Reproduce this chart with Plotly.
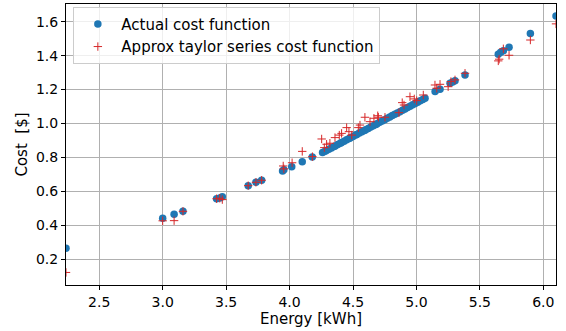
import plotly.graph_objects as go

# Actual cost function (blue dots)
actual_energy = [2.238, 3.00, 3.09, 3.16, 3.425, 3.45, 3.47, 3.674, 3.735, 3.78, 3.945, 3.955,
                 4.017, 4.10, 4.179,
                 4.26, 4.28, 4.29, 4.31, 4.33, 4.35, 4.36, 4.38, 4.40, 4.41, 4.43, 4.45, 4.47,
                 4.48, 4.50, 4.52, 4.53, 4.55, 4.57, 4.59, 4.60, 4.62, 4.64, 4.66, 4.68, 4.69,
                 4.71, 4.73, 4.75, 4.77, 4.79, 4.81, 4.83, 4.85, 4.87, 4.89, 4.91, 4.93, 4.95,
                 4.97, 4.99, 5.01, 5.03, 5.05, 5.068,
                 5.147, 5.186, 5.265, 5.285, 5.304, 5.383,
                 5.645, 5.664, 5.685, 5.73, 5.898, 6.1]
actual_cost = [0.265, 0.442, 0.465, 0.483, 0.557, 0.562, 0.569, 0.634, 0.654, 0.666, 0.720, 0.728,
               0.746, 0.775, 0.803,
               0.829, 0.837, 0.841, 0.849, 0.856, 0.864, 0.868, 0.876, 0.884, 0.888, 0.896, 0.904,
               0.912, 0.916, 0.924, 0.932, 0.936, 0.944, 0.952, 0.959, 0.963, 0.971, 0.979, 0.987,
               0.995, 0.999, 1.007, 1.015, 1.023, 1.031, 1.039, 1.047, 1.055, 1.062, 1.070, 1.078,
               1.086, 1.094, 1.102, 1.110, 1.118, 1.126, 1.134, 1.142, 1.149,
               1.188, 1.202, 1.237, 1.245, 1.252, 1.286,
               1.408, 1.420, 1.429, 1.449, 1.530, 1.634]

# Approx taylor series cost function (red plus)
approx_energy = [2.238, 3.00, 3.09, 3.16, 3.425, 3.45, 3.47, 3.674, 3.735, 3.78, 3.95, 3.955,
                 4.02, 4.10, 4.18,
                 4.253, 4.274, 4.292, 4.318, 4.358, 4.392, 4.41, 4.45, 4.468, 4.49, 4.542, 4.555,
                 4.594, 4.634, 4.665, 4.695, 4.70, 4.752, 4.862, 4.888, 4.902, 4.949, 4.983,
                 5.002, 5.054,
                 5.146, 5.16, 5.186, 5.25, 5.272, 5.304, 5.383,
                 5.645, 5.652, 5.685, 5.73, 5.898, 6.1]
approx_cost = [0.123, 0.427, 0.428, 0.483, 0.557, 0.560, 0.552, 0.634, 0.654, 0.666, 0.750, 0.733,
               0.769, 0.836, 0.805,
               0.909, 0.858, 0.878, 0.884, 0.917, 0.932, 0.942, 0.976, 0.952, 0.932, 0.976, 0.991,
               1.037, 1.011, 1.031, 1.046, 1.037, 1.037, 1.064, 1.123, 1.109, 1.158, 1.145,
               1.135, 1.168,
               1.227, 1.208, 1.231, 1.217, 1.247, 1.257, 1.296,
               1.369, 1.379, 1.440, 1.402, 1.492, 1.587]

x_ticks = [2.5, 3.0, 3.5, 4.0, 4.5, 5.0, 5.5, 6.0]
y_ticks = [0.2, 0.4, 0.6, 0.8, 1.0, 1.2, 1.4, 1.6]

font = "DejaVu Sans, Arial, sans-serif"

fig = go.Figure()
fig.add_trace(go.Scatter(
    x=actual_energy, y=actual_cost, mode="markers", name="Actual cost function",
    marker=dict(color="#1f77b4", size=7.5, line=dict(width=0)),
))
fig.add_trace(go.Scatter(
    x=approx_energy, y=approx_cost, mode="markers", name="Approx taylor series cost function",
    marker=dict(color="#d62728", size=6, symbol="cross-thin", line=dict(width=1, color="#d62728")),
))

axis_common = dict(
    showline=True, linecolor="black", linewidth=1, mirror=True,
    ticks="outside", ticklen=4, tickcolor="black", tickwidth=1,
    showgrid=True, gridcolor="#b0b0b0", gridwidth=1, zeroline=False,
    tickfont=dict(family=font, size=14, color="black"),
)

fig.update_layout(
    width=566, height=331,
    margin=dict(l=66, r=10, t=4, b=46),
    paper_bgcolor="white", plot_bgcolor="white",
    font=dict(family=font, size=14, color="black"),
    xaxis=dict(range=[2.238, 6.1], tickvals=x_ticks, ticktext=[f"{v:.1f}" for v in x_ticks],
               title=dict(text="Energy [kWh]", font=dict(family=font, size=15), standoff=0),
               **axis_common),
    yaxis=dict(range=[0.049, 1.704], tickvals=y_ticks, ticktext=[f"{v:.1f}" for v in y_ticks],
               title=dict(text="Cost\u00a0 [$]", font=dict(family=font, size=15), standoff=4),
               **axis_common),
    legend=dict(x=0.015, y=0.99, xanchor="left", yanchor="top", itemwidth=37,
                bgcolor="rgba(255,255,255,0.8)", bordercolor="#cccccc", borderwidth=1,
                font=dict(family=font, size=15, color="black")),
    showlegend=True,
)

fig.write_html("out.html")
